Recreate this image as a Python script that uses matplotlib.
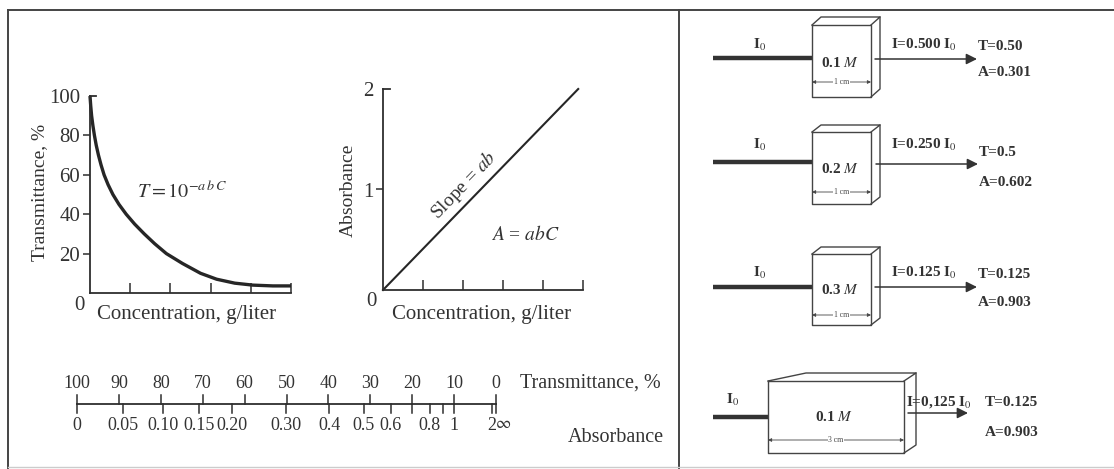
import numpy as np
import matplotlib
matplotlib.use('Agg')
import matplotlib.pyplot as plt

plt.rcParams['font.family'] = ['Liberation Serif', 'DejaVu Serif']
plt.rcParams['mathtext.fontset'] = 'stix'

# ---------------- data ----------------
trans_T = [100, 95, 90, 85, 80, 75, 70, 65, 60, 55, 50, 45, 40, 35, 30, 25, 20, 15, 10, 7, 5, 4, 3.6, 3.6]
conc_T = [0, 0.018, 0.04, 0.072, 0.11, 0.155, 0.21, 0.275, 0.35, 0.45, 0.57, 0.72, 0.90,
          1.11, 1.35, 1.61, 1.90, 2.30, 2.75, 3.15, 3.60, 4.05, 4.55, 5.0]
T_ticks = [20, 40, 60, 80, 100]
conc_ticks = [1, 2, 3, 4, 5]

conc_A = [0, 4.88]
absorb_A = [0, 2]
A_ticks = [1, 2]

scale_T = [100, 90, 80, 70, 60, 50, 40, 30, 20, 10, 0]
scale_A = [0, 0.05, 0.1, 0.15, 0.2, 0.3, 0.4, 0.5, 0.6, 0.7, 0.8, 0.9, 1, 2]
scale_A_labels = ['0', '0.05', '0.10', '0.15', '0.20', '0.30', '0.4', '0.5', '0.6', '', '0.8', '', '1', '2']

cell_conc = ['0.1', '0.2', '0.3', '0.1']
cell_path = ['1 cm', '1 cm', '1 cm', '3 cm']
cell_I = ['0.500', '0.250', '0.125', '0,125']
cell_T = ['0.50', '0.5', '0.125', '0.125']
cell_A = ['0.301', '0.602', '0.903', '0.903']

# ---------------- figure ----------------
W, H = 1114, 469
fig = plt.figure(figsize=(W / 100, H / 100), dpi=100)
fig.patch.set_facecolor('white')
ax0 = fig.add_axes([0, 0, 1, 1])
ax0.set_xlim(0, W)
ax0.set_ylim(H, 0)
ax0.axis('off')

INK = '#2e2e2e'
TXT = '#333'


def frac(x0, y0, x1, y1):
    return [x0 / W, 1 - y1 / H, (x1 - x0) / W, (y1 - y0) / H]


# frame
ax0.plot([8, W], [10, 10], color='#444', lw=1.4)
ax0.plot([8, 8], [10, H], color='#444', lw=1.4)
ax0.plot([679, 679], [10, H], color='#444', lw=1.4)
ax0.plot([8, W], [467, 467], color='#ccc', lw=1.0)

# ---------------- plot 1: transmittance ----------------
ax1 = fig.add_axes(frac(90, 96, 291, 293))
ax1.set_xlim(0, 5)
ax1.set_ylim(0, 100)
for s in ['top', 'right']:
    ax1.spines[s].set_visible(False)
for s in ['left', 'bottom']:
    ax1.spines[s].set_linewidth(1.3)
    ax1.spines[s].set_color(INK)
ax1.set_facecolor('none')
ax1.set_yticks(T_ticks)
ax1.set_yticklabels([str(t) for t in T_ticks])
ax1.tick_params(axis='y', direction='out', length=5, width=1.1, color=INK,
                labelsize=15, pad=2, labelcolor=TXT)
ax1.yaxis.get_major_ticks()[-1].tick1line.set_visible(False)
ax1.set_xticks(conc_ticks)
ax1.tick_params(axis='x', direction='in', length=7, width=1.1, color=INK, labelbottom=False)
ax1.plot([0, 0.15], [100, 100], color=INK, lw=1.3, clip_on=False)
ax1.plot(conc_T, trans_T, color='#262626', lw=2.4, clip_on=False,
         solid_capstyle='butt', solid_joinstyle='round')

ax0.text(40, 192, 'Transmittance, %', rotation=90, ha='center', va='center', fontsize=14, color=TXT)
ax0.text(79, 305, '0', ha='center', va='center', fontsize=15, color=TXT)
ax0.text(187, 314, 'Concentration, g/liter', ha='center', va='center', fontsize=15, color=TXT)
ax0.text(137, 192, r'$T = 10^{-a\,b\,C}$', ha='left', va='center', fontsize=14.5, color=TXT)

# ---------------- plot 2: absorbance ----------------
ax2 = fig.add_axes(frac(383, 89, 583, 290))
ax2.set_xlim(0, 5)
ax2.set_ylim(0, 2)
for s in ['top', 'right']:
    ax2.spines[s].set_visible(False)
for s in ['left', 'bottom']:
    ax2.spines[s].set_linewidth(1.3)
    ax2.spines[s].set_color(INK)
ax2.set_facecolor('none')
ax2.set_yticks(A_ticks)
ax2.set_yticklabels([str(a) for a in A_ticks])
ax2.tick_params(axis='y', direction='out', length=5, width=1.1, color=INK,
                labelsize=15, pad=2, labelcolor=TXT)
ax2.yaxis.get_major_ticks()[-1].tick1line.set_visible(False)
ax2.set_xticks(conc_ticks)
ax2.tick_params(axis='x', direction='in', length=7, width=1.1, color=INK, labelbottom=False)
ax2.plot([0, 0.17], [2, 2], color=INK, lw=1.3, clip_on=False)
ax2.plot(conc_A, absorb_A, color='#262626', lw=1.5, clip_on=False)

ax0.text(348, 190, 'Absorbance', rotation=90, ha='center', va='center', fontsize=14, color=TXT)
ax0.text(371, 302, '0', ha='center', va='center', fontsize=15, color=TXT)
ax0.text(482, 314, 'Concentration, g/liter', ha='center', va='center', fontsize=15, color=TXT)
ax0.text(464, 185, r'Slope = $ab$', rotation=46, ha='center', va='center', fontsize=14,
         color=TXT, rotation_mode='anchor')
ax0.text(525, 234, r'$A$ = $abC$', ha='center', va='center', fontsize=14, color=TXT)

# ---------------- scale bar ----------------
axb = fig.add_axes(frac(77, 370, 496, 440))
axb.set_xlim(100, 0)
axb.set_ylim(440, 370)
axb.axis('off')
axb.plot([100, 0], [404, 404], color=INK, lw=1.3, clip_on=False)
for t in scale_T:
    axb.plot([t, t], [395, 404], color=INK, lw=1.1, clip_on=False)
    axb.text(t, 383, str(t), ha='center', va='center', fontsize=13, color=TXT)
for a, lab in zip(scale_A, scale_A_labels):
    tt = 100 * 10 ** (-a)
    axb.plot([tt, tt], [404, 413], color=INK, lw=1.1, clip_on=False)
    if lab:
        axb.text(tt, 425, lab, ha='center', va='center', fontsize=13, color=TXT)
axb.plot([0, 0], [404, 413], color=INK, lw=1.1, clip_on=False)
axb.text(-1.6, 424, r'$\infty$', ha='center', va='center', fontsize=12, color=TXT)
ax0.text(520, 383, 'Transmittance, %', ha='left', va='center', fontsize=14.5, color=TXT)
ax0.text(664, 437, 'Absorbance', ha='right', va='center', fontsize=14.5, color=TXT)

# ---------------- right panel: cells ----------------
rows = [
    dict(bx0=713, fx0=812, fx1=871, yt=25, yb=97, dxl=9, dxr=9, dy=-8, by=58,
         ox0=875, ox1=977, oy=59, i0=(760, 45), c=(840, 63), dimy=82,
         il=(924, 45), tp=(978, 47), ap=(978, 73)),
    dict(bx0=713, fx0=812, fx1=871, yt=132, yb=204, dxl=9, dxr=9, dy=-7, by=162,
         ox0=876, ox1=978, oy=164, i0=(760, 145), c=(840, 169), dimy=192,
         il=(924, 145), tp=(979, 153), ap=(979, 182)),
    dict(bx0=713, fx0=812, fx1=871, yt=254, yb=325, dxl=9, dxr=9, dy=-7, by=287,
         ox0=875, ox1=977, oy=287, i0=(760, 273), c=(840, 290), dimy=315,
         il=(924, 273), tp=(978, 275), ap=(978, 302)),
    dict(bx0=713, fx0=768, fx1=904, yt=381, yb=453, dxl=38, dxr=12, dy=-8, by=417,
         ox0=908, ox1=968, oy=413, i0=(733, 400), c=(834, 417), dimy=440,
         il=(939, 402), tp=(985, 402), ap=(985, 432)),
]

for r, conc, path, ival, tval, aval in zip(rows, cell_conc, cell_path, cell_I, cell_T, cell_A):
    ax0.plot([r['bx0'], r['fx0']], [r['by'], r['by']], color='#333', lw=3.2, solid_capstyle='butt')
    x0, x1, yt, yb = r['fx0'], r['fx1'], r['yt'], r['yb']
    dxl, dxr, dy = r['dxl'], r['dxr'], r['dy']
    ekw = dict(color='#444', lw=1.0)
    ax0.plot([x0, x1, x1, x0, x0], [yt, yt, yb, yb, yt], **ekw)
    ax0.plot([x0, x0 + dxl, x1 + dxr, x1], [yt, yt + dy, yt + dy, yt], **ekw)
    ax0.plot([x1 + dxr, x1 + dxr, x1], [yt + dy, yb + dy, yb], **ekw)
    ax0.annotate('', xy=(r['ox1'], r['oy']), xytext=(r['ox0'], r['oy']),
                 arrowprops=dict(arrowstyle='-|>', color='#333', lw=1.1,
                                 mutation_scale=16, shrinkA=0, shrinkB=0))
    ax0.annotate('', xy=(x1, r['dimy']), xytext=(x0, r['dimy']),
                 arrowprops=dict(arrowstyle='<|-|>', color='#444', lw=0.6,
                                 mutation_scale=5, shrinkA=0, shrinkB=0))
    ax0.text((x0 + x1) / 2, r['dimy'], path, ha='center', va='center', fontsize=5.5,
             color='#444', bbox=dict(facecolor='white', edgecolor='none', pad=0.6))
    tkw = dict(fontsize=11, fontweight='bold', color=TXT, va='center')
    ax0.text(*r['i0'], r'I$_0$', ha='center', **tkw)
    ax0.text(*r['c'], conc + r' $M$', ha='center', **tkw)
    ax0.text(*r['il'], 'I=' + ival + r' I$_0$', ha='center', **tkw)
    ax0.text(*r['tp'], 'T=' + tval, ha='left', **tkw)
    ax0.text(*r['ap'], 'A=' + aval, ha='left', **tkw)

fig.savefig('out.png', dpi=100, facecolor='white')
